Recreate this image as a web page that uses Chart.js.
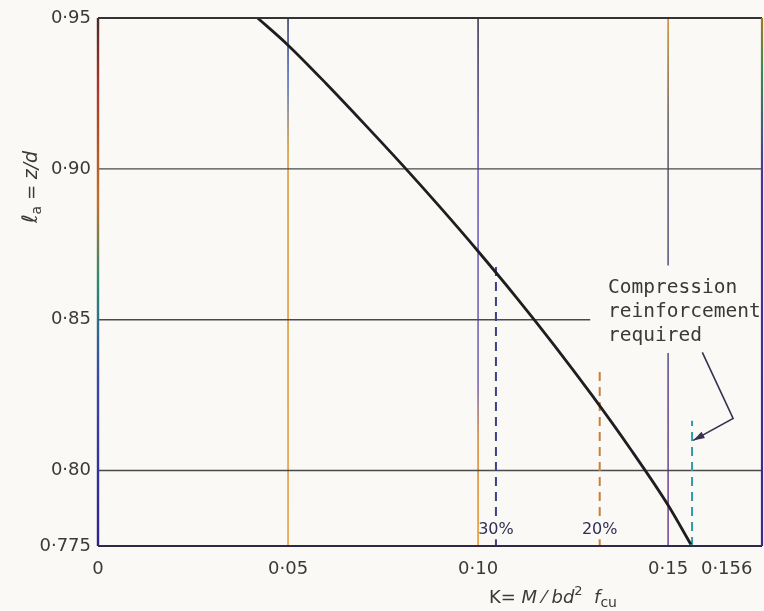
<!DOCTYPE html>
<html>
<head>
<meta charset="utf-8">
<script src="https://cdn.jsdelivr.net/npm/chart.js@4.4.0/dist/chart.umd.min.js"></script>
<style>
  html, body { margin: 0; padding: 0; background: #fbf9f5; }
  #wrap { width: 764px; height: 611px; position: relative; }
</style>
</head>
<body>
<div id="wrap"><canvas id="myChart"></canvas></div>
<script>
"use strict";

// Lever arm curve
const kValues = [0.042, 0.05, 0.06, 0.07, 0.08, 0.09, 0.10, 0.11, 0.12, 0.13, 0.14, 0.15, 0.156];
const zValues = [0.9500, 0.9410, 0.9283, 0.9150, 0.9014, 0.8873, 0.8727, 0.8575, 0.8416, 0.8249, 0.8073, 0.7885, 0.7755];

// Dashed limit lines (redistribution 30%, 20%, compression limit)
const limitK = [0.1047, 0.132, 0.1563];
const limitTop = [0.868, 0.833, 0.8165];
const limitLabels = ["30%", "20%", ""];
const limitColors = ["#3d3f8c", "#c9803a", "#2f9aa8"];

// Arrow for the note
const arrowK = [0.159, 0.1671, 0.1566];
const arrowZ = [0.8392, 0.8173, 0.810];

// Ticks
const xTicks = [0, 0.05, 0.10, 0.15];
const yTicks = [0.775, 0.80, 0.85, 0.90, 0.95];
const extraXLabel = 0.156;

const noteLines = ["Compression", "reinforcement", "required"];

// Grid segments [value, from, to]
const vSegs = [[0.05, 0.775, 0.95], [0.10, 0.775, 0.95], [0.15, 0.868, 0.95], [0.15, 0.775, 0.839]];
const hSegs = [[0.80, 0, 0.1747], [0.85, 0, 0.1295], [0.90, 0, 0.1747]];

const fmt = function (v) {
  if (v === 0) return "0";
  let s = v.toFixed(3);
  if (s.endsWith("0")) s = s.slice(0, -1);
  return s.replace(".", "·");
};

const vGrad = function (ctx, top, bottom, stops) {
  const g = ctx.createLinearGradient(0, top, 0, bottom);
  stops.forEach((s) => g.addColorStop(s[0], s[1]));
  return g;
};

const gridColors = {
  0.05: [[0, "#3a3a6a"], [0.12, "#4a6fc0"], [0.25, "#d69a3c"], [1, "#e0a040"]],
  0.1: [[0, "#3a3a50"], [0.3, "#6a5cc0"], [0.7, "#7a66b0"], [0.8, "#d98c3a"], [1, "#e39a35"]],
  0.15: [[0, "#d09030"], [0.2, "#666"], [0.5, "#5a5a8a"], [1, "#7a4a9a"]],
};

const drawPieces = function (ctx, pieces, x, y, align) {
  let w = 0;
  pieces.forEach((p) => { ctx.font = p.f; w += ctx.measureText(p.t).width; });
  let cx = align === "left" ? x : x - w / 2;
  pieces.forEach((p) => {
    ctx.font = p.f;
    ctx.fillText(p.t, cx, y + (p.dy || 0));
    cx += ctx.measureText(p.t).width;
  });
};

const notesPlugin = {
  id: "notes",
  beforeDatasetsDraw(chart) {
    const { ctx, chartArea: a, scales: { x, y } } = chart;
    ctx.save();
    ctx.lineWidth = 1.6;
    vSegs.forEach((s) => {
      const px = x.getPixelForValue(s[0]);
      ctx.strokeStyle = vGrad(ctx, a.top, a.bottom, gridColors[s[0]]);
      ctx.beginPath();
      ctx.moveTo(px, y.getPixelForValue(s[1]));
      ctx.lineTo(px, y.getPixelForValue(s[2]));
      ctx.stroke();
    });
    ctx.strokeStyle = "#4a4a4a";
    ctx.lineWidth = 1.4;
    hSegs.forEach((s) => {
      const py = y.getPixelForValue(s[0]);
      ctx.beginPath();
      ctx.moveTo(x.getPixelForValue(s[1]), py);
      ctx.lineTo(x.getPixelForValue(s[2]), py);
      ctx.stroke();
    });
    ctx.restore();
  },
  afterDatasetsDraw(chart) {
    const { ctx, chartArea: a, scales: { x, y } } = chart;
    ctx.save();

    // frame
    ctx.lineWidth = 2;
    ctx.strokeStyle = "#333";
    ctx.beginPath();
    ctx.moveTo(a.left, a.top);
    ctx.lineTo(a.right, a.top);
    ctx.stroke();
    ctx.strokeStyle = "#2d2a48";
    ctx.beginPath();
    ctx.moveTo(a.left, a.bottom);
    ctx.lineTo(a.right, a.bottom);
    ctx.stroke();
    ctx.lineWidth = 2.4;
    ctx.strokeStyle = vGrad(ctx, a.top, a.bottom, [[0, "#4a2a2a"], [0.12, "#a8342a"], [0.35, "#c0702a"], [0.5, "#2a8a70"], [0.68, "#3848a8"], [1, "#2c2290"]]);
    ctx.beginPath();
    ctx.moveTo(a.left, a.top);
    ctx.lineTo(a.left, a.bottom);
    ctx.stroke();
    ctx.lineWidth = 2.2;
    ctx.strokeStyle = vGrad(ctx, a.top, a.bottom, [[0, "#a07a28"], [0.1, "#3a8a50"], [0.3, "#4a3298"], [1, "#3a2a8a"]]);
    ctx.beginPath();
    ctx.moveTo(a.right, a.top);
    ctx.lineTo(a.right, a.bottom);
    ctx.stroke();

    // percentage labels on dashed lines
    ctx.font = "16px 'DejaVu Sans'";
    ctx.textAlign = "center";
    ctx.textBaseline = "middle";
    limitLabels.forEach((t, i) => {
      if (!t) return;
      const px = x.getPixelForValue(limitK[i]);
      const py = y.getPixelForValue(0.7802);
      const w = ctx.measureText(t).width;
      ctx.fillStyle = "#fbf9f5";
      ctx.fillRect(px - w / 2 + 2, py - 9, w - 2, 18);
      ctx.fillStyle = "#2f2f55";
      ctx.fillText(t, px, py);
    });

    // arrow head
    const n = arrowK.length;
    const hx = x.getPixelForValue(arrowK[n - 1]);
    const hy = y.getPixelForValue(arrowZ[n - 1]);
    const ang = Math.atan2(hy - y.getPixelForValue(arrowZ[n - 2]), hx - x.getPixelForValue(arrowK[n - 2]));
    ctx.fillStyle = "#3a3050";
    ctx.beginPath();
    ctx.moveTo(hx, hy);
    ctx.lineTo(hx - 12 * Math.cos(ang - 0.3), hy - 12 * Math.sin(ang - 0.3));
    ctx.lineTo(hx - 12 * Math.cos(ang + 0.3), hy - 12 * Math.sin(ang + 0.3));
    ctx.closePath();
    ctx.fill();

    // note text
    ctx.font = "19.5px 'DejaVu Sans Mono'";
    ctx.textAlign = "left";
    ctx.textBaseline = "alphabetic";
    ctx.fillStyle = "#3a3838";
    const nx = x.getPixelForValue(0.1342);
    const ny = y.getPixelForValue(0.859);
    noteLines.forEach((t, i) => ctx.fillText(t, nx, ny + i * 24));

    // extra tick label 0·156
    ctx.font = "18px 'DejaVu Sans'";
    ctx.fillStyle = "#3a3a3a";
    ctx.textBaseline = "middle";
    ctx.fillText(fmt(extraXLabel), x.getPixelForValue(extraXLabel) + 10, a.bottom + 23);

    // x title
    ctx.textBaseline = "alphabetic";
    drawPieces(ctx, [
      { t: "K= ", f: "18px 'DejaVu Sans'" },
      { t: "M", f: "italic 18px 'DejaVu Sans'" },
      { t: " ⁄ ", f: "18px 'DejaVu Sans'" },
      { t: "bd", f: "italic 18px 'DejaVu Sans'" },
      { t: "2", f: "13px 'DejaVu Sans'", dy: -8 },
      { t: "  f", f: "italic 18px 'DejaVu Sans'" },
      { t: "cu", f: "14px 'DejaVu Sans'", dy: 4 },
    ], x.getPixelForValue(0.1197), a.bottom + 57, "center");

    // y title
    ctx.translate(a.left - 68, y.getPixelForValue(0.894));
    ctx.rotate(-Math.PI / 2);
    drawPieces(ctx, [
      { t: "ℓ", f: "italic 21px 'DejaVu Sans'" },
      { t: "a", f: "14px 'DejaVu Sans'", dy: 4 },
      { t: " = ", f: "18px 'DejaVu Sans'" },
      { t: "z/d", f: "italic 19px 'DejaVu Sans'" },
    ], 0, 7, "center");

    ctx.restore();
  },
};

const curve = kValues.map((k, i) => ({ x: k, y: zValues[i] }));

const limitSets = limitK.map((k, i) => ({
  data: [{ x: k, y: 0.775 }, { x: k, y: limitTop[i] }],
  borderColor: limitColors[i],
  borderWidth: 2,
  borderDash: [9, 6],
  pointRadius: 0,
}));

const ctx = document.getElementById("myChart").getContext("2d");

const myChart = new Chart(ctx, {
  type: "line",
  data: {
    datasets: [
      {
        data: curve,
        borderColor: "#1e1e22",
        borderWidth: 2.8,
        pointRadius: 0,
        cubicInterpolationMode: "monotone",
      },
      ...limitSets,
      {
        data: arrowK.map((k, i) => ({ x: k, y: arrowZ[i] })),
        borderColor: "#3a3050",
        borderWidth: 1.6,
        pointRadius: 0,
        tension: 0,
      },
    ],
  },
  options: {
    responsive: true,
    maintainAspectRatio: false,
    animation: false,
    layout: { padding: { top: 18, right: 2, left: 0, bottom: 0 } },
    scales: {
      x: {
        type: "linear",
        min: 0,
        max: 0.1747,
        afterBuildTicks: (scale) => { scale.ticks = xTicks.map((v) => ({ value: v })); },
        afterFit: (scale) => { scale.height = 65; },
        grid: { display: false, drawTicks: false },
        border: { display: false },
        ticks: {
          padding: 13,
          maxRotation: 0,
          autoSkip: false,
          color: "#3a3a3a",
          font: { size: 18, family: "DejaVu Sans" },
          callback: (v) => fmt(v),
        },
      },
      y: {
        type: "linear",
        min: 0.775,
        max: 0.95,
        afterBuildTicks: (scale) => { scale.ticks = yTicks.map((v) => ({ value: v })); },
        afterFit: (scale) => { scale.width = 98; },
        grid: { display: false, drawTicks: false },
        border: { display: false },
        ticks: {
          padding: 7,
          autoSkip: false,
          color: "#3a3a3a",
          font: { size: 18, family: "DejaVu Sans" },
          callback: (v) => fmt(v),
        },
      },
    },
    plugins: {
      legend: { display: false },
      tooltip: { enabled: false },
    },
  },
  plugins: [notesPlugin],
});
</script>
</body>
</html>
